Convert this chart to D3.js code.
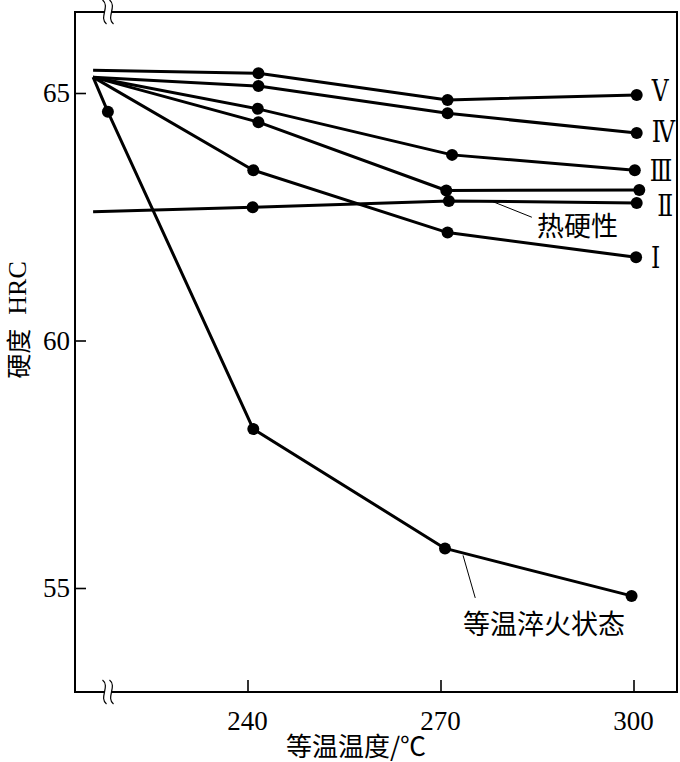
<!DOCTYPE html>
<html><head><meta charset="utf-8">
<script src="https://cdn.jsdelivr.net/npm/d3@7"></script>
<style>body{margin:0;background:#fff}</style>
</head><body>
<svg id="c" width="680" height="762"></svg>
<script>
// ---- data ----
const xTicks = [240, 270, 300];
const yTicks = [55, 60, 65];
const seriesNames = ["Ⅴ", "Ⅳ", "Ⅲ", "Ⅱ", "Ⅰ", "热硬性", "等温淬火状态"];
// start point (no marker) + measured points
const V_x = [216.0, 241.7, 271.1, 300.5];
const V_y = [65.46, 65.40, 64.86, 64.96];
const IV_x = [216.0, 241.7, 271.1, 300.5];
const IV_y = [65.32, 65.14, 64.59, 64.19];
const III_x = [216.0, 241.6, 271.8, 300.2];
const III_y = [65.32, 64.68, 63.75, 63.44];
const II_x = [216.0, 241.7, 270.9, 300.9];
const II_y = [65.32, 64.41, 63.03, 63.04];
const I_x = [216.0, 240.9, 271.1, 300.4];
const I_y = [65.32, 63.44, 62.18, 61.68];
const hot_x = [216.0, 240.8, 271.3, 300.5];
const hot_y = [62.60, 62.69, 62.82, 62.78];
const aus_x = [216.0, 218.3, 240.9, 270.7, 299.7];
const aus_y = [65.32, 64.62, 58.21, 55.80, 54.84];

const seriesList = [
  {name: seriesNames[0], xs: V_x, ys: V_y},
  {name: seriesNames[1], xs: IV_x, ys: IV_y},
  {name: seriesNames[2], xs: III_x, ys: III_y},
  {name: seriesNames[3], xs: II_x, ys: II_y},
  {name: seriesNames[4], xs: I_x, ys: I_y},
  {name: seriesNames[5], xs: hot_x, ys: hot_y},
  {name: seriesNames[6], xs: aus_x, ys: aus_y}
];

// ---- layout ----
const L = 75, R = 677, T = 12, B = 692;
const x = d3.scaleLinear().domain([240, 300]).range([247.5, 633.5]);
const y = d3.scaleLinear().domain([55, 65]).range([588, 93]);

const svg = d3.select("#c");
const serif = "'Liberation Serif', 'Times New Roman', serif";
const romanFont = "'DejaVu Serif', serif";
const cjk = "'Noto Sans CJK SC', 'Noto Sans CJK JP', sans-serif";

// frame
svg.append("rect").attr("x", L).attr("y", T).attr("width", R - L).attr("height", B - T)
  .attr("fill", "none").attr("stroke", "#000").attr("stroke-width", 2);

// axes (tick marks from d3 axes, labels drawn from the same scales)
const gx = svg.append("g").attr("transform", `translate(0,${B})`)
  .call(d3.axisBottom(x).tickValues(xTicks).tickSize(-12).tickFormat(""));
const gy = svg.append("g").attr("transform", `translate(${L},0)`)
  .call(d3.axisLeft(y).tickValues(yTicks).tickSize(-11).tickFormat(""));
[gx, gy].forEach(g => {
  g.select(".domain").remove();
  g.selectAll(".tick text").remove();
  g.selectAll(".tick line").attr("stroke", "#000").attr("stroke-width", 1.6);
});
svg.append("g").selectAll("text").data(xTicks).enter().append("text")
  .attr("x", d => x(d)).attr("y", B + 38).attr("text-anchor", "middle")
  .attr("font-family", serif).attr("font-size", 27).attr("fill", "#000").text(d => d);
svg.append("g").selectAll("text").data(yTicks).enter().append("text")
  .attr("x", L - 5).attr("y", d => y(d)).attr("text-anchor", "end").attr("dominant-baseline", "central")
  .attr("font-family", serif).attr("font-size", 27).attr("fill", "#000").text(d => d);

// axis break marks
function breakMark(cx, cy) {
  const g = svg.append("g");
  [-3.5, 3.5].forEach(dx => {
    g.append("path")
      .attr("d", `M${cx + dx - 2},${cy - 12} C${cx + dx + 6},${cy - 6} ${cx + dx - 6},${cy + 6} ${cx + dx + 2},${cy + 12}`)
      .attr("fill", "none").attr("stroke", "#000").attr("stroke-width", 1.2);
  });
}
svg.append("rect").attr("x", 104).attr("y", T - 3).attr("width", 7).attr("height", 6).attr("fill", "#fff");
svg.append("rect").attr("x", 104).attr("y", B - 3).attr("width", 7).attr("height", 6).attr("fill", "#fff");
breakMark(108, T);
breakMark(108, B);

// lines + dots
const line = d3.line().x(d => x(d[0])).y(d => y(d[1]));
seriesList.forEach(s => {
  const pts = s.xs.map((v, i) => [v, s.ys[i]]);
  svg.append("path").datum(pts).attr("d", line)
    .attr("fill", "none").attr("stroke", "#000").attr("stroke-width", 3).attr("stroke-linejoin", "round");
  svg.selectAll(null).data(pts.slice(1)).enter().append("circle")
    .attr("cx", d => x(d[0])).attr("cy", d => y(d[1])).attr("r", 6).attr("fill", "#000");
});

// roman numeral labels (slightly condensed, like the reference)
const romanPos = [[V_x, V_y], [IV_x, IV_y], [III_x, III_y], [II_x, II_y], [I_x, I_y]];
const romanDy = [-5, -2, 0, 15, 0];
const romanDx = [0, 0, 0, 3, 0];
romanPos.forEach((r, i) => {
  const last = r[0].length - 1;
  const px = x(r[0][last]) + 15 + romanDx[i], py = y(r[1][last]) + romanDy[i];
  svg.append("text").attr("transform", `translate(${px},${py}) scale(0.78,1)`)
    .attr("dominant-baseline", "central")
    .style("font-family", romanFont).style("font-size", "30px").text(seriesNames[i]);
});

// annotations
svg.append("line").attr("x1", x(277.85)).attr("y1", y(62.82)).attr("x2", x(284.2)).attr("y2", y(62.49))
  .attr("stroke", "#000").attr("stroke-width", 1);
svg.append("text").attr("x", 537).attr("y", 224).attr("dominant-baseline", "central")
  .style("font-family", cjk).style("font-size", "27px").text(seriesNames[5]);
svg.append("line").attr("x1", x(273.5)).attr("y1", y(55.66)).attr("x2", x(275.4)).attr("y2", y(54.8))
  .attr("stroke", "#000").attr("stroke-width", 1);
svg.append("text").attr("x", 544).attr("y", 622).attr("text-anchor", "middle").attr("dominant-baseline", "central")
  .style("font-family", cjk).style("font-size", "27px").text(seriesNames[6]);

// axis titles
svg.append("text").attr("x", 356).attr("y", 744).attr("text-anchor", "middle").attr("dominant-baseline", "central")
  .style("font-family", cjk).style("font-size", "26px").text("等温温度/℃");
const yl = svg.append("text").attr("transform", "translate(17,320) rotate(-90)").attr("text-anchor", "middle")
  .attr("dominant-baseline", "central")
  .style("font-family", cjk).style("font-size", "25px");
yl.append("tspan").text("硬度");
yl.append("tspan").attr("dx", 14).style("font-family", serif).style("font-size", "26px").text("HRC");
</script>
</body></html>
